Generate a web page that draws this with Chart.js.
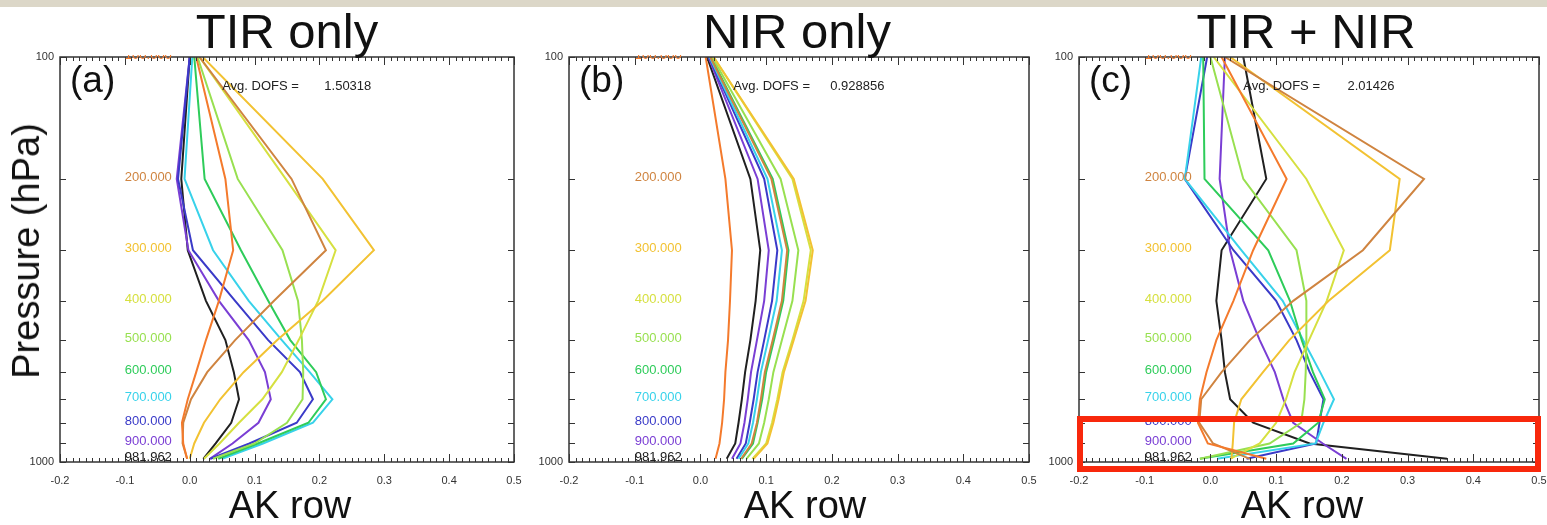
<!DOCTYPE html>
<html>
<head>
<meta charset="utf-8">
<script src="https://cdn.jsdelivr.net/npm/chart.js@4.4.0/dist/chart.umd.min.js"></script>
<style>
  body { margin:0; background:#fff; width:1547px; height:525px; overflow:hidden; position:relative;
         font-family:"Liberation Sans", Arial, sans-serif; }
  .band { position:absolute; left:0; top:0; width:1547px; height:7px; background:#dcd7c8; }
  .panel { position:absolute; top:0; }
  .big { position:absolute; line-height:1; white-space:nowrap; color:#111; transform:translateX(-50%); }
  .title { font-size:49px; top:6.5px; }
  .xlab { font-size:38px; top:486px; }
  .ylab { position:absolute; font-size:38px; line-height:1; white-space:nowrap; color:#111;
          left:26px; top:251px; transform:translate(-50%,-50%) rotate(-90deg); }
  .box { position:absolute; left:1077px; top:416px; width:464px; height:56px; box-sizing:border-box;
         border:6px solid #f8280c; z-index:5; }
</style>
</head>
<body>
<div class="band"></div>

<script>
// pressure levels (hPa) of the averaging kernel rows
const levels = [100, 200, 300, 400, 500, 600, 700, 800, 900, 981.962];
const levelLabels = ['100.000', '200.000', '300.000', '400.000', '500.000', '600.000', '700.000', '800.000', '900.000', '981.962'];
const levelColors = ['#f47a2c', '#cf8440', '#f2c232', '#d6e040', '#98e050', '#2ecc5a', '#38d2ea', '#3a3ac8', '#7a3ed4', '#202020'];

const panelTitles = ['TIR only', 'NIR only', 'TIR + NIR'];
const panelTags = ['(a)', '(b)', '(c)'];
const dofsValues = ['1.50318', '0.928856', '2.01426'];
const yTickValues = [100, 200, 300, 400, 500, 600, 700, 800, 900, 1000];

// AK rows, one row per level label, values at each level in `levels`
const tirOnly = [
  [0.010, 0.055, 0.067, 0.045, 0.025, 0.010, -0.003, -0.012, -0.010, -0.004],
  [0.015, 0.157, 0.210, 0.130, 0.070, 0.027, 0.002, -0.010, -0.011, -0.004],
  [0.020, 0.205, 0.284, 0.205, 0.135, 0.083, 0.047, 0.022, 0.007, 0.000],
  [0.015, 0.148, 0.225, 0.198, 0.168, 0.142, 0.112, 0.076, 0.046, 0.022],
  [0.012, 0.074, 0.143, 0.167, 0.173, 0.175, 0.174, 0.150, 0.100, 0.036],
  [0.007, 0.023, 0.079, 0.121, 0.155, 0.195, 0.210, 0.183, 0.105, 0.044],
  [0.004, -0.008, 0.036, 0.091, 0.142, 0.185, 0.220, 0.190, 0.113, 0.050],
  [0.000, -0.018, 0.005, 0.070, 0.121, 0.170, 0.190, 0.165, 0.092, 0.032],
  [0.000, -0.020, -0.002, 0.045, 0.091, 0.116, 0.125, 0.106, 0.066, 0.031],
  [0.000, -0.013, -0.003, 0.025, 0.055, 0.068, 0.076, 0.064, 0.040, 0.021]
];

const nirOnly = [
  [0.008, 0.038, 0.048, 0.045, 0.042, 0.038, 0.036, 0.033, 0.029, 0.023],
  [0.015, 0.108, 0.132, 0.124, 0.110, 0.098, 0.092, 0.086, 0.078, 0.062],
  [0.020, 0.142, 0.171, 0.160, 0.142, 0.127, 0.119, 0.111, 0.102, 0.081],
  [0.020, 0.140, 0.168, 0.157, 0.140, 0.125, 0.117, 0.109, 0.100, 0.079],
  [0.018, 0.122, 0.149, 0.140, 0.124, 0.111, 0.104, 0.097, 0.089, 0.070],
  [0.016, 0.110, 0.134, 0.126, 0.112, 0.100, 0.094, 0.087, 0.080, 0.063],
  [0.014, 0.102, 0.124, 0.116, 0.103, 0.092, 0.086, 0.080, 0.073, 0.058],
  [0.013, 0.097, 0.117, 0.109, 0.097, 0.087, 0.081, 0.075, 0.069, 0.055],
  [0.012, 0.087, 0.104, 0.097, 0.086, 0.077, 0.072, 0.067, 0.061, 0.048],
  [0.010, 0.076, 0.091, 0.084, 0.076, 0.068, 0.063, 0.058, 0.053, 0.040]
];

const tirNir = [
  [0.017, 0.116, 0.065, 0.035, 0.009, -0.006, -0.016, -0.019, -0.004, 0.085],
  [0.022, 0.325, 0.232, 0.126, 0.060, 0.017, -0.014, -0.017, 0.004, 0.060],
  [0.030, 0.288, 0.273, 0.180, 0.120, 0.080, 0.047, 0.036, 0.034, 0.032],
  [0.005, 0.146, 0.203, 0.177, 0.150, 0.128, 0.115, 0.100, 0.075, 0.030],
  [0.000, 0.050, 0.131, 0.146, 0.146, 0.145, 0.143, 0.138, 0.090, -0.016],
  [-0.011, -0.009, 0.088, 0.121, 0.139, 0.156, 0.174, 0.164, 0.126, -0.016],
  [-0.014, -0.039, 0.047, 0.110, 0.141, 0.167, 0.188, 0.172, 0.160, 0.010],
  [-0.005, -0.039, 0.035, 0.100, 0.131, 0.151, 0.172, 0.166, 0.161, 0.055],
  [0.022, 0.014, 0.030, 0.050, 0.075, 0.098, 0.111, 0.126, 0.171, 0.207],
  [0.050, 0.085, 0.017, 0.009, 0.017, 0.022, 0.030, 0.065, 0.151, 0.360]
];

const panelRows = [tirOnly, nirOnly, tirNir];

// plot placement on the page
const plotLefts = [60, 569, 1079];
const plotWidths = [454, 460, 460];
const titleCenters = [287, 797, 1306];
const xlabCenters = [290, 805, 1302];
const FONT = '"Liberation Sans", Arial, sans-serif';

// frame, inward ticks, level labels and annotations
const decor = {
  id: 'decor',
  afterDatasetsDraw(chart) {
    const {ctx, chartArea: a, scales: {x, y}} = chart;
    const k = chart.options.plugins.decor.panel;
    ctx.save();
    ctx.strokeStyle = '#333';
    ctx.lineWidth = 1.5;
    ctx.strokeRect(a.left, a.top, a.right - a.left, a.bottom - a.top);
    ctx.lineWidth = 1;
    ctx.beginPath();
    for (let i = -20; i <= 50; i++) {
      const px = Math.round(x.getPixelForValue(i / 100)) + 0.5;
      const len = i % 10 === 0 ? 8 : 4;
      ctx.moveTo(px, a.bottom); ctx.lineTo(px, a.bottom - len);
      ctx.moveTo(px, a.top); ctx.lineTo(px, a.top + len);
    }
    yTickValues.forEach(v => {
      const py = Math.round(y.getPixelForValue(v)) + 0.5;
      ctx.moveTo(a.left, py); ctx.lineTo(a.left + 6, py);
      ctx.moveTo(a.right, py); ctx.lineTo(a.right - 6, py);
    });
    ctx.stroke();

    // level labels
    ctx.font = '13px ' + FONT;
    ctx.textAlign = 'left';
    ctx.textBaseline = 'alphabetic';
    const lx = x.getPixelForValue(-0.1);
    ctx.save();
    ctx.beginPath();
    ctx.rect(0, a.top - 2, chart.width, chart.height);
    ctx.clip();
    levels.forEach((p, i) => {
      ctx.fillStyle = levelColors[i];
      ctx.fillText(levelLabels[i], lx, y.getPixelForValue(p) + 2);
    });
    ctx.restore();

    // DOFS
    ctx.fillStyle = '#222';
    ctx.textBaseline = 'middle';
    const dy = y.getPixelForValue(118);
    ctx.fillText('Avg. DOFS =', x.getPixelForValue(0.05), dy);
    ctx.textAlign = 'right';
    ctx.fillText(dofsValues[k], x.getPixelForValue(0.28), dy);

    // panel tag
    ctx.textAlign = 'left';
    ctx.textBaseline = 'alphabetic';
    ctx.fillStyle = '#111';
    ctx.font = '37px ' + FONT;
    ctx.fillText(panelTags[k], a.left + 10, 92);
    ctx.restore();
  }
};

function makePanel(k) {
  const w = 60 + plotWidths[k] + 25;
  const div = document.createElement('div');
  div.className = 'panel';
  div.style.left = (plotLefts[k] - 60) + 'px';
  div.style.width = w + 'px';
  div.style.height = '525px';
  const cv = document.createElement('canvas');
  cv.width = w;
  cv.height = 525;
  div.appendChild(cv);
  document.body.appendChild(div);

  const datasets = panelRows[k].map((row, i) => ({
    label: levelLabels[i],
    data: row.map((v, j) => ({x: v, y: levels[j]})),
    borderColor: levelColors[i],
    borderWidth: 2,
    pointRadius: 0,
    fill: false,
    tension: 0
  }));

  new Chart(cv, {
    type: 'line',
    data: {datasets},
    options: {
      responsive: false,
      animation: false,
      events: [],
      layout: {padding: {left: 0, right: 25, top: 57, bottom: 33}},
      plugins: {legend: {display: false}, tooltip: {enabled: false}, decor: {panel: k}},
      scales: {
        x: {
          type: 'linear', min: -0.2, max: 0.5,
          grid: {display: false, drawTicks: false},
          border: {display: false},
          afterFit: s => { s.height = 30; },
          ticks: {stepSize: 0.1, padding: 12, color: '#333', font: {family: 'Liberation Sans', size: 11},
                  callback: v => (Math.abs(v) < 1e-9 ? 0 : v).toFixed(1)}
        },
        y: {
          type: 'logarithmic', reverse: true, min: 100, max: 1000,
          grid: {display: false, drawTicks: false},
          border: {display: false},
          afterFit: s => { s.width = 60; },
          afterBuildTicks: s => { s.ticks = yTickValues.map(v => ({value: v})); },
          ticks: {autoSkip: false, padding: 6, color: '#333', font: {family: 'Liberation Sans', size: 11},
                  callback: v => (v === 100 || v === 1000) ? String(v) : ''}
        }
      }
    },
    plugins: [decor]
  });

  const t = document.createElement('div');
  t.className = 'big title';
  t.style.left = titleCenters[k] + 'px';
  t.textContent = panelTitles[k];
  document.body.appendChild(t);

  const xl = document.createElement('div');
  xl.className = 'big xlab';
  xl.style.left = xlabCenters[k] + 'px';
  xl.textContent = 'AK row';
  document.body.appendChild(xl);
}

[0, 1, 2].forEach(makePanel);

const yl = document.createElement('div');
yl.className = 'ylab';
yl.textContent = 'Pressure (hPa)';
document.body.appendChild(yl);

const box = document.createElement('div');
box.className = 'box';
document.body.appendChild(box);
</script>
</body>
</html>
